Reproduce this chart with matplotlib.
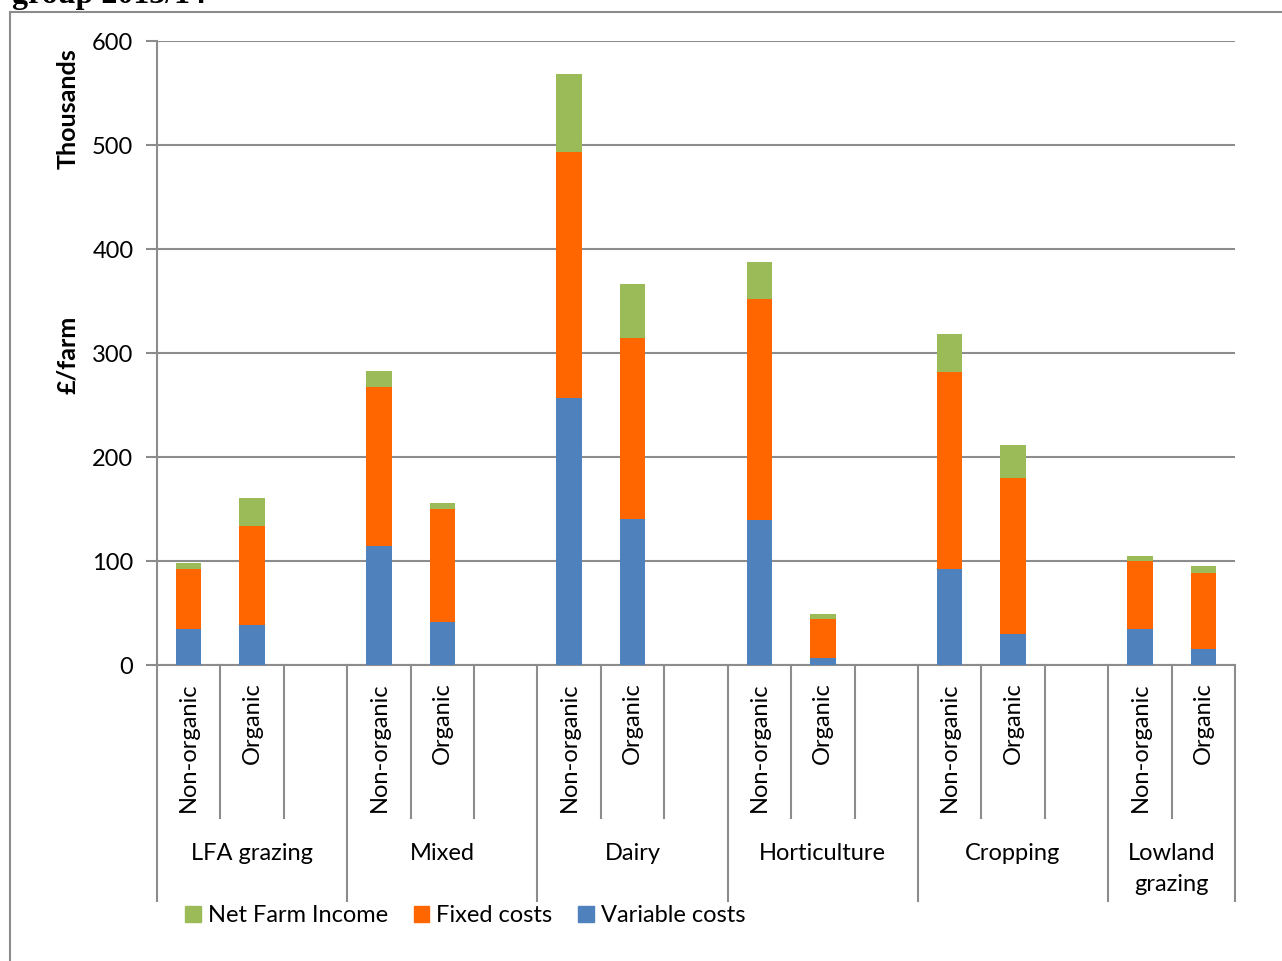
import matplotlib.pyplot as plt
from matplotlib.lines import Line2D
from matplotlib.patches import Patch
import matplotlib.transforms as mtransforms

# Farm business costs and income by farm type (£ thousands per farm)
groups = ["LFA grazing", "Mixed", "Dairy", "Horticulture", "Cropping", "Lowland\ngrazing"]
systems = ["Non-organic", "Organic"]

variable_costs = [35, 38.5, 114, 41, 256.5, 140.5, 139, 7, 92, 30, 34.5, 15.5]
fixed_costs = [57, 95.5, 153.5, 109, 237, 173.5, 212.5, 37, 189.5, 149.5, 65.5, 72.5]
net_farm_income = [6, 27, 15, 5.5, 74.5, 52.5, 36, 5, 36.5, 32, 5, 7]

c_var = "#4F81BD"
c_fix = "#FF6600"
c_nfi = "#9BBB59"
grey = "#8C8C8C"

plt.rcParams['font.family'] = ['Lato', 'DejaVu Sans']
fs = 17

fig = plt.figure(figsize=(12.82, 9.61), dpi=100)
ax = fig.add_axes([157/1282, 1 - 665/961, (1235 - 157)/1282, 624/961])

# slot positions: three slots per group, the third one left empty
xpos = []
for g in range(len(groups)):
    for i in range(len(systems)):
        xpos.append(g * 3 + i)

fix_bottom = variable_costs
nfi_bottom = [a + b for a, b in zip(variable_costs, fixed_costs)]
w = 0.4
ax.bar(xpos, variable_costs, width=w, color=c_var, zorder=3)
ax.bar(xpos, fixed_costs, width=w, bottom=fix_bottom, color=c_fix, zorder=3)
ax.bar(xpos, net_farm_income, width=w, bottom=nfi_bottom, color=c_nfi, zorder=3)

n_slots = len(groups) * 3 - 1
ax.set_xlim(-0.5, n_slots - 0.5)
ax.set_ylim(0, 600)
ax.set_yticks(range(0, 601, 100))
ax.tick_params(axis='y', length=8, width=1.5, color=grey, labelsize=fs, pad=9)
ax.set_xticks([])
ax.yaxis.grid(True, color=grey, linewidth=1.5, zorder=0)
ax.set_axisbelow(True)
for s in ["top", "right"]:
    ax.spines[s].set_visible(False)
for s in ["left", "bottom"]:
    ax.spines[s].set_color(grey)
    ax.spines[s].set_linewidth(1.5)

# multi-level category axis drawn below the plot
trans = mtransforms.blended_transform_factory(ax.transData, ax.transAxes)
inner_bottom = -(818 - 665) / 624
outer_bottom = -(901 - 665) / 624
for k in range(n_slots + 1):
    xb = k - 0.5
    y_end = outer_bottom if k % 3 == 0 or k == n_slots else inner_bottom
    ax.add_line(Line2D([xb, xb], [0, y_end], transform=trans, color=grey,
                       linewidth=1.5, clip_on=False))

for x, g in zip(xpos, [s for _ in groups for s in systems]):
    ax.text(x, -(682 - 665) / 624, g, transform=trans, rotation=90,
            ha='center', va='top', fontsize=fs)

for gi, name in enumerate(groups):
    last = min(gi * 3 + 2, n_slots - 1)
    xc = (gi * 3 - 0.5 + last + 0.5) / 2
    ax.text(xc, -(843 - 665) / 624, name, transform=trans, ha='center',
            va='top', fontsize=fs, linespacing=1.6)

# y axis titles
fig.text(68/1282, 1 - 109/961, "Thousands", rotation=90, ha='center',
         va='center', fontsize=18, fontweight='bold')
fig.text(68/1282, 1 - 355/961, "£/farm", rotation=90, ha='center',
         va='center', fontsize=18, fontweight='bold')

handles = [Patch(color=c_nfi, label="Net Farm Income"),
           Patch(color=c_fix, label="Fixed costs"),
           Patch(color=c_var, label="Variable costs")]
fig.legend(handles=handles, loc='center left', bbox_to_anchor=(164/1282, 1 - 916/961),
           ncol=3, frameon=False, fontsize=fs, handlelength=0.65, handleheight=0.65,
           handletextpad=0.3, columnspacing=1.1)

# chart area border and clipped heading
fig.add_artist(Line2D([10/1282, 10/1282], [0, 1 - 12/961], transform=fig.transFigure,
                      color=grey, linewidth=1.5))
fig.add_artist(Line2D([10/1282, 1], [1 - 12/961, 1 - 12/961], transform=fig.transFigure,
                      color=grey, linewidth=1.5))
fig.text(12/1282, 1 - 3/961, "group 2013/14", ha='left', va='baseline',
         fontsize=23, fontweight='bold', family='Liberation Serif')

fig.savefig("out.png", dpi=100)
